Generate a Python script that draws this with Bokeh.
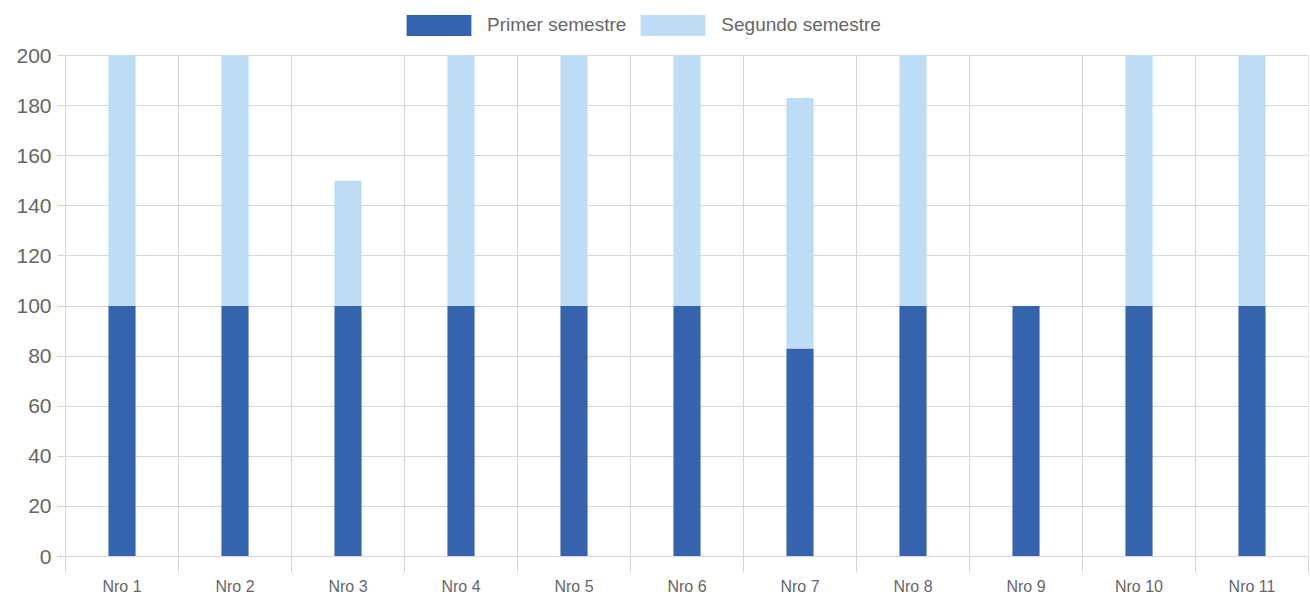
from bokeh.plotting import figure
from bokeh.models import FixedTicker, Legend, Range1d
from bokeh.embed import file_html
from bokeh.resources import INLINE

categories = ["Nro 1", "Nro 2", "Nro 3", "Nro 4", "Nro 5", "Nro 6", "Nro 7", "Nro 8", "Nro 9", "Nro 10", "Nro 11"]
primer = [100, 100, 100, 100, 100, 100, 83, 100, 100, 100, 100]
segundo = [100, 100, 50, 100, 100, 100, 100, 100, 0, 100, 100]
series_names = ["Primer semestre", "Segundo semestre"]
colors = ["#3563ae", "#bddcf5"]
y_ticks = list(range(0, 201, 20))

n = len(categories)
xs = [i + 0.5 for i in range(n)]
data = dict(x=xs, primer=primer, segundo=segundo)

GRID = "#d6d6d6"
TXT = "#666666"

Y_MAX = 200
PLOT_H = 501      # pixel height of the 0..200 area
TOP_SPACE = 55    # pixels above it (legend area, inside frame)
FRAME_H = PLOT_H + TOP_SPACE
y_end = Y_MAX * FRAME_H / PLOT_H

p = figure(frame_width=1243, frame_height=FRAME_H, output_backend="svg", toolbar_location=None,
           x_range=Range1d(0, n), y_range=Range1d(0, y_end))
p.min_border_left = 65
p.min_border_right = 1
p.min_border_top = 0
p.min_border_bottom = 0
p.outline_line_color = None

# vertical category boundary lines, limited to 0..200
bounds_x = list(range(n + 1))
p.segment(x0=bounds_x, x1=bounds_x, y0=[0] * (n + 1), y1=[Y_MAX] * (n + 1),
          line_color=GRID, line_width=1)

r = p.vbar_stack(["primer", "segundo"], x="x", width=0.24, source=data,
                 color=colors, line_color=None)

legend = Legend(items=[(series_names[0], [r[0]]), (series_names[1], [r[1]])],
                orientation="horizontal", location=(333, FRAME_H - 38),
                glyph_width=81, glyph_height=26, label_standoff=8, spacing=6,
                label_text_font="Liberation Sans", label_text_font_size="19px",
                label_text_color=TXT, border_line_color=None,
                background_fill_alpha=0, padding=0, margin=0)
p.add_layout(legend, "center")

# x axis
p.xaxis.ticker = FixedTicker(ticks=xs, minor_ticks=bounds_x)
p.xaxis.major_label_overrides = {x: c for x, c in zip(xs, categories)}
p.xaxis.major_tick_out = 0
p.xaxis.major_tick_in = 0
p.xaxis.minor_tick_out = 16
p.xaxis.minor_tick_in = 0
p.xaxis.minor_tick_line_color = GRID
p.xaxis.axis_line_color = GRID
p.xaxis.major_label_standoff = 5
p.xaxis.major_label_text_font = "Liberation Sans"
p.xaxis.major_label_text_font_size = "16px"
p.xaxis.major_label_text_color = TXT

# y axis
p.yaxis.ticker = FixedTicker(ticks=y_ticks)
p.yaxis.bounds = (0, Y_MAX)
p.yaxis.major_tick_out = 8
p.yaxis.major_tick_in = 0
p.yaxis.minor_tick_line_color = None
p.yaxis.major_tick_line_color = GRID
p.yaxis.axis_line_color = GRID
p.yaxis.major_label_standoff = 6
p.yaxis.major_label_text_font = "Liberation Sans"
p.yaxis.major_label_text_font_size = "21px"
p.yaxis.major_label_text_color = TXT

# grids
p.xgrid.visible = False
p.ygrid.ticker = FixedTicker(ticks=y_ticks)
p.ygrid.grid_line_color = GRID

open("out.html", "w").write(file_html(p, INLINE))
